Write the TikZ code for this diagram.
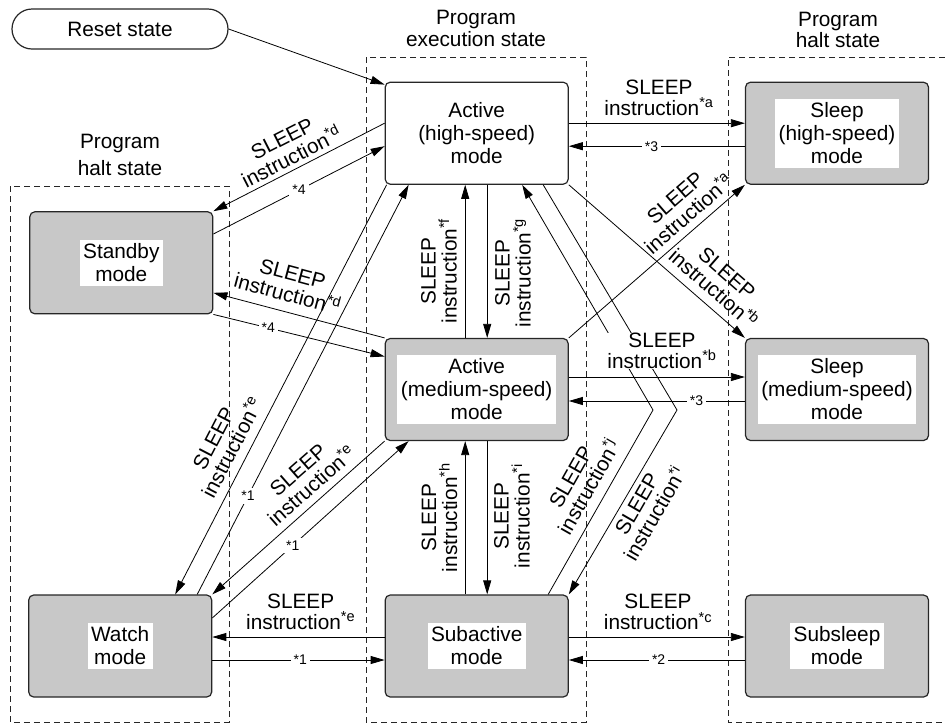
\documentclass[tikz,border=0pt]{standalone}
\usepackage{fontspec}
\setmainfont{Liberation Sans}
\usetikzlibrary{arrows.meta,calc}
\definecolor{boxgray}{RGB}{200,200,200}
\newcommand\slp[1]{SLEEP\\instruction\textsuperscript{*#1}}
\begin{document}
\begin{tikzpicture}[x=1pt,y=-1pt,
  every node/.style={font=\fontsize{20.8}{23}\selectfont},
  mode/.style={draw=black!85, line width=1.2pt, rounded corners=5pt, minimum width=183pt, minimum height=102pt, inner sep=0pt},
  graymode/.style={mode, fill=boxgray},
  modetext/.style={fill=white, align=center, inner xsep=3.5pt, inner ysep=4pt},
  region/.style={draw=black!85, dash pattern=on 6pt off 4pt, line width=0.9pt},
  conn/.style={draw=black, line width=0.8pt, -{Triangle[length=14pt,width=8pt]}},
  lab/.style={align=center, inner sep=0pt, font=\fontsize{20.8}{21}\selectfont},
  starlab/.style={font=\fontsize{14}{16}\selectfont, fill=white, inner sep=3pt},
  title/.style={align=center, inner sep=0pt}
]
\useasboundingbox (0,0) rectangle (945,724);

% regions
\draw[region] (10,186) rectangle (229,722);
\draw[region] (366,57) rectangle (586,722);
\draw[region] (945,57) -- (728,57) -- (728,722) -- (945,722);

% titles
\node[title, font=\fontsize{20.8}{22}\selectfont] (t-exec) at (476,28.5) {Program\\execution state};
\node[title, font=\fontsize{20.8}{21.6}\selectfont] (t-halt-r) at (838,30) {Program\\halt state};
\node[title, font=\fontsize{20.8}{27}\selectfont] (t-halt-l) at (120,154.5) {Program\\halt state};

% reset
\node[draw=black!85, line width=1.2pt, rounded corners=20pt, minimum width=216pt, minimum height=40pt] (rs) at (120,29) {Reset state};

% modes
\node[mode, fill=white, align=center] (ah) at (476.7,133.2) {Active\\(high-speed)\\mode};
\node[graymode] (sh) at (837,133.2) {};
\node[modetext] (sh-t) at (sh) {Sleep\\(high-speed)\\mode};
\node[graymode] (sb) at (121.3,262.8) {};
\node[modetext] (sb-t) at (sb) {Standby\\mode};
\node[graymode] (am) at (476.7,389.5) {};
\node[modetext] (am-t) at (am) {Active\\(medium-speed)\\mode};
\node[graymode] (sm) at (837,389.5) {};
\node[modetext] (sm-t) at (sm) {Sleep\\(medium-speed)\\mode};
\node[graymode] (wm) at (120.2,646) {};
\node[modetext] (wm-t) at (wm) {Watch\\mode};
\node[graymode] (sa) at (476.7,646) {};
\node[modetext] (sa-t) at (sa) {Subactive\\mode};
\node[graymode] (ss) at (837,646) {};
\node[modetext] (ss-t) at (ss) {Subsleep\\mode};

% connectors
\draw[conn] (rs.east) -- ([yshift=-3pt]ah.north west);

\draw[conn] ([yshift=10pt]ah.east) -- ([yshift=10pt]sh.west);
\draw[conn] ([yshift=-13pt]sh.west) -- node[starlab,pos=0.53] (s3a) {*3} ([yshift=-13pt]ah.east);

\draw[conn] ([yshift=10pt]ah.west) -- (sb.north east);
\draw[conn] ([yshift=28.8pt]sb.east) -- node[starlab,pos=0.5] (s4a) {*4} ([yshift=-13pt]ah.west);
\draw[conn] (am.north west) -- ([yshift=-30pt]sb.east);
\draw[conn] (sb.south east) -- node[starlab,pos=0.32] (s4b) {*4} ([yshift=33pt]am.west);

\draw[conn] ([xshift=-11.5pt]am.north) -- ([xshift=-11.5pt]ah.south);
\draw[conn] ([xshift=10.5pt]ah.south) -- ([xshift=10.5pt]am.north);
\draw[conn] ([xshift=-11.5pt]sa.north) -- ([xshift=-11.5pt]am.south);
\draw[conn] ([xshift=10.5pt]am.south) -- ([xshift=10.5pt]sa.north);

\draw[conn] ([yshift=12.5pt]am.east) -- ([yshift=12.5pt]sm.west);
\draw[conn] ([yshift=-11.5pt]sm.west) -- node[starlab,pos=0.275] (s3b) {*3} ([yshift=-11.5pt]am.east);

\draw[conn] (am.north east) -- (sh.south west);
\draw[conn] (ah.south east) -- (sm.north west);

\draw[conn] ([xshift=2pt]ah.south west) -- ([xshift=55pt]wm.north);
\draw[conn] ([xshift=77pt]wm.north) -- node[starlab,pos=0.24] (s1a) {*1} ([xshift=24pt]ah.south west);
\draw[conn] (am.south west) -- (wm.north east);
\draw[conn] ([yshift=28pt]wm.east) -- node[starlab,pos=0.41] (s1b) {*1} ([xshift=24pt]am.south west);

\draw[conn] ([yshift=9pt]sa.west) -- ([yshift=9pt]wm.east);
\draw[conn] ([yshift=-14pt]wm.east) -- node[starlab,pos=0.51] (s1c) {*1} ([yshift=-14pt]sa.west);
\draw[conn] ([yshift=9pt]sa.east) -- ([yshift=9pt]ss.west);
\draw[conn] ([yshift=-14pt]ss.west) -- node[starlab,pos=0.49] (s2) {*2} ([yshift=-14pt]sa.east);

\coordinate (bendA) at (653,410);
\coordinate (bendB) at (677,410);
\draw[conn] ([xshift=71.5pt]sa.north) -- (bendA) -- ([xshift=45.5pt]ah.south);
\draw[conn] ([xshift=66.5pt]ah.south) -- (bendB) -- (sa.north east);

% labels
\node[lab] (l-a) at (659,97.5) {\slp{a}};
\node[lab, fill=white, inner xsep=2pt] (l-b) at (662,350.8) {\slp{b}};
\node[lab] (l-c) at (658,612) {\slp{c}};
\node[lab] (l-e3) at (300.7,611.5) {\slp{e}};

\node[lab, rotate=90] (l-f) at (439,271) {\slp{f}};
\node[lab, rotate=90] (l-g) at (513,273) {\slp{g}};
\node[lab, rotate=90] (l-h) at (439.5,517.5) {\slp{h}};
\node[lab, rotate=90] (l-i) at (512,516) {\slp{i}};

\node[lab, rotate=27] (l-d1) at (287,148) {\slp{d}};
\node[lab, rotate=-15] (l-d2) at (290,284) {\slp{d}};
\node[lab, rotate=41] (l-a2) at (682,206) {\slp{a}};
\node[lab, rotate=-41] (l-b2) at (720,281) {\slp{b}};
\node[lab, rotate=62.6] (l-e1) at (223,443) {\slp{e}};
\node[lab, rotate=41.3] (l-e2) at (305,478) {\slp{e}};
\node[lab, rotate=60.4] (l-j) at (580,482) {\slp{j}};
\node[lab, rotate=60] (l-i2) at (646,509) {\slp{i}};
\end{tikzpicture}
\end{document}
